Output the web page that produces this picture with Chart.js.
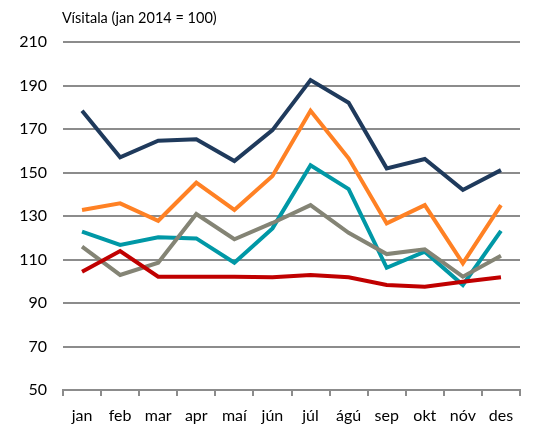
<!DOCTYPE html>
<html>
<head>
<meta charset="utf-8">
<script src="https://cdn.jsdelivr.net/npm/chart.js@4/dist/chart.umd.min.js"></script>
<style>
  html, body { margin: 0; padding: 0; background: #fff; }
  #wrap { position: relative; width: 542px; height: 427px; }
</style>
</head>
<body>
<div id="wrap"><canvas id="c" width="542" height="427"></canvas></div>
<script>
const categories = ['jan','feb','mar','apr','maí','jún','júl','ágú','sep','okt','nóv','des'];
const yTicks = [50, 70, 90, 110, 130, 150, 170, 190, 210];
const axisTitle = 'Vísitala (jan 2014 = 100)';

const seriesNavy   = [178.4, 157.0, 164.6, 165.3, 155.3, 169.5, 192.5, 182.1, 151.9, 156.2, 142.0, 151.1];
const seriesOrange = [132.8, 135.8, 127.8, 145.3, 132.8, 148.4, 178.4, 156.5, 126.6, 135.0, 108.2, 135.0];
const seriesTeal   = [122.8, 116.7, 120.2, 119.7, 108.5, 124.3, 153.3, 142.4, 106.2, 113.6, 98.3, 123.2];
const seriesGray   = [115.9, 102.9, 108.5, 130.9, 119.3, 126.8, 135.0, 122.3, 112.5, 114.7, 102.1, 111.7];
const seriesRed    = [104.4, 113.9, 102.1, 102.1, 102.1, 101.8, 102.9, 101.8, 98.3, 97.5, 99.8, 101.8];

const FONT = 'Lato, "Open Sans", sans-serif';

const titlePlugin = {
  id: 'axisTitleText',
  afterDraw(chart) {
    const ctx = chart.ctx;
    ctx.save();
    ctx.font = '14.5px ' + FONT;
    ctx.fillStyle = '#000';
    ctx.textBaseline = 'alphabetic';
    ctx.textAlign = 'left';
    ctx.fillText(axisTitle, 62, 23);
    ctx.restore();
  }
};

function ds(label, data, color, order) {
  return {
    label, data,
    borderColor: color,
    backgroundColor: color,
    borderWidth: 4,
    pointRadius: 0,
    tension: 0,
    fill: false,
    order
  };
}

new Chart(document.getElementById('c'), {
  type: 'line',
  data: {
    labels: categories,
    datasets: [
      ds('navy', seriesNavy, '#1F3A5C', 5),
      ds('orange', seriesOrange, '#FF8124', 4),
      ds('teal', seriesTeal, '#0098A6', 3),
      ds('gray', seriesGray, '#848475', 2),
      ds('red', seriesRed, '#C00000', 1)
    ]
  },
  options: {
    responsive: false,
    animation: false,
    devicePixelRatio: 1,
    layout: { padding: { top: 42, right: 22, bottom: 0, left: 0 } },
    plugins: { legend: { display: false }, tooltip: { enabled: false }, title: { display: false } },
    scales: {
      x: {
        offset: true,
        afterFit(scale) { scale.height = 37; },
        grid: { display: true, drawOnChartArea: false, drawTicks: true, tickLength: 6, color: '#8C8C8C', lineWidth: 2, offset: true },
        border: { display: true, color: '#8C8C8C', width: 2 },
        ticks: { color: '#000', font: { family: FONT, size: 16 }, padding: 10, maxRotation: 0, autoSkip: false }
      },
      y: {
        min: 50, max: 210,
        afterBuildTicks(scale) { scale.ticks = yTicks.map(v => ({ value: v })); },
        afterFit(scale) { scale.width = 63; },
        grid: { color: '#8C8C8C', lineWidth: 2, drawTicks: false },
        border: { display: false },
        ticks: { color: '#000', font: { family: FONT, size: 16 }, padding: 16 }
      }
    }
  },
  plugins: [titlePlugin]
});
</script>
</body>
</html>
